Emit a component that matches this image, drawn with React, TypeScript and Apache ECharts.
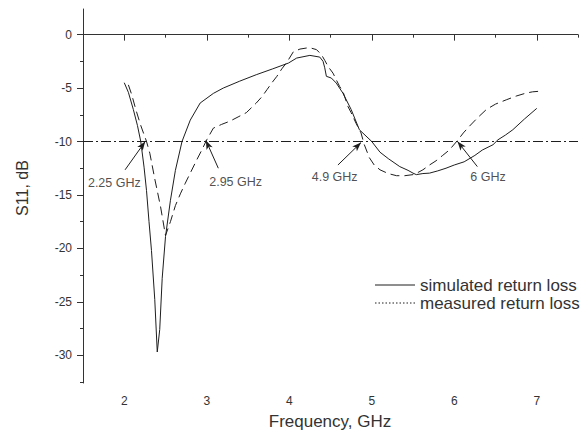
import React, { useEffect, useRef } from "react";
import * as echarts from "echarts";

const xMajorTicks = [2, 3, 4, 5, 6, 7];
const xMinorTicks = [1.5, 2.5, 3.5, 4.5, 5.5, 6.5, 7.5];
const yMajorTicks = [0, -5, -10, -15, -20, -25, -30];
const yMinorTicks = [-2.5, -7.5, -12.5, -17.5, -22.5, -27.5, -32.5];

const simulated: [number, number][] = [
  [2.0, -4.5], [2.05, -5.4], [2.11, -7.0], [2.16, -8.5], [2.2, -10.0], [2.24, -12.4],
  [2.27, -14.6], [2.3, -17.5], [2.33, -20.2], [2.37, -24.8], [2.4, -29.7], [2.43, -27.6],
  [2.46, -22.8], [2.5, -18.9], [2.56, -15.5], [2.62, -12.7], [2.7, -10.0], [2.8, -8.0],
  [2.92, -6.4], [3.08, -5.5], [3.2, -5.0], [3.4, -4.35], [3.6, -3.75], [3.8, -3.2],
  [3.99, -2.66], [4.09, -2.19], [4.25, -1.94], [4.37, -2.1], [4.41, -2.5], [4.43, -3.1],
  [4.45, -3.9], [4.51, -4.06], [4.57, -4.53], [4.65, -5.47], [4.75, -7.0], [4.85, -8.9],
  [5.0, -10.0], [5.1, -11.0], [5.2, -11.6], [5.34, -12.35], [5.44, -12.7], [5.5, -12.96],
  [5.54, -13.1], [5.62, -13.0], [5.7, -12.96], [5.8, -12.75], [5.9, -12.5], [6.0, -12.2],
  [6.12, -11.9], [6.25, -11.3], [6.34, -10.8], [6.47, -10.3], [6.53, -9.84], [6.62, -9.4],
  [6.71, -8.9], [6.85, -7.9], [7.0, -6.9],
];

const measured: [number, number][] = [
  [2.05, -4.7], [2.09, -5.6], [2.14, -7.0], [2.2, -8.5], [2.27, -10.0], [2.31, -11.1],
  [2.37, -13.5], [2.44, -16.1], [2.5, -18.8], [2.56, -17.5], [2.62, -16.0], [2.68, -14.9],
  [2.74, -13.9], [2.81, -12.8], [2.88, -11.7], [2.94, -10.8], [3.0, -9.84], [3.08, -8.75],
  [3.18, -8.4], [3.28, -8.1], [3.38, -7.7], [3.48, -7.3], [3.6, -6.4], [3.67, -5.8],
  [3.73, -5.15], [3.79, -4.5], [3.85, -3.9], [3.91, -3.2], [3.97, -2.6], [4.05, -1.6],
  [4.13, -1.35], [4.21, -1.25], [4.27, -1.27], [4.33, -1.4], [4.39, -1.87], [4.43, -2.4],
  [4.47, -2.97], [4.53, -3.6], [4.61, -4.84], [4.65, -5.3], [4.71, -6.7], [4.75, -7.3],
  [4.81, -8.3], [4.87, -9.2], [4.91, -10.3], [4.97, -11.5], [5.03, -12.2], [5.1, -12.65],
  [5.2, -13.0], [5.3, -13.2], [5.4, -13.2], [5.5, -13.1], [5.56, -12.9], [5.62, -12.65],
  [5.7, -12.2], [5.78, -11.8], [5.86, -11.3], [5.94, -10.8], [6.04, -9.9], [6.11, -9.2],
  [6.18, -8.6], [6.28, -7.8], [6.39, -7.0], [6.5, -6.5], [6.63, -6.1], [6.75, -5.75],
  [6.87, -5.47], [6.95, -5.35], [7.03, -5.3],
];

const threshold = -10;

const annotationLabels = ["2.25 GHz", "2.95 GHz", "4.9 GHz", "6 GHz"];
const annotationTextAt: [number, number][] = [[1.88, -13.9], [3.35, -13.75], [4.55, -13.3], [6.41, -13.3]];
const arrowFrom: [number, number][] = [[2.01, -12.65], [3.14, -12.5], [4.59, -12.2], [6.28, -12.35]];
const arrowTo: [number, number][] = [[2.254, -10.0], [2.99, -9.9], [4.87, -10.1], [6.04, -10.0]];

const legendNames = ["simulated return loss", "measured return loss"];

const FONT = "'Liberation Sans', Arial, sans-serif";
const INK = "#1e1e1e";

export default function App() {
  const ref = useRef<HTMLDivElement>(null);
  useEffect(() => {
    document.body.style.margin = "0";
    if (!ref.current) return;
    const chart = echarts.init(ref.current, null, { renderer: "svg" });
    const axisCommon = {
      type: "value" as const,
      splitLine: { show: false },
    };
    chart.setOption({
      animation: false,
      backgroundColor: "#ffffff",
      grid: { left: 83, right: 8, top: 9, bottom: 57 },
      xAxis: [
        {
          ...axisCommon,
          min: 1.5,
          max: 7.5,
          position: "bottom",
          axisLine: { show: true, lineStyle: { color: "#333", width: 1 } },
          axisTick: { show: true, inside: false, length: 6, customValues: xMajorTicks, lineStyle: { color: "#333" } },
          axisLabel: { customValues: xMajorTicks, margin: 12, fontSize: 12, color: "#333", fontFamily: FONT },
        },
        {
          ...axisCommon,
          min: 1.5,
          max: 7.5,
          position: "bottom",
          axisLine: { show: false },
          axisTick: { show: true, inside: false, length: 3, customValues: xMinorTicks, lineStyle: { color: "#333" } },
          axisLabel: { show: false },
        },
      ],
      yAxis: [
        {
          ...axisCommon,
          min: -32.6,
          max: 2.4,
          position: "left",
          axisLine: { show: true, lineStyle: { color: "#333", width: 1 } },
          axisTick: { show: true, inside: false, length: 6, customValues: yMajorTicks, lineStyle: { color: "#333" } },
          axisLabel: { customValues: yMajorTicks, margin: 11, fontSize: 12, color: "#333", fontFamily: FONT },
        },
        {
          ...axisCommon,
          min: -32.6,
          max: 2.4,
          position: "left",
          axisLine: { show: false },
          axisTick: { show: true, inside: false, length: 3, customValues: yMinorTicks, lineStyle: { color: "#333" } },
          axisLabel: { show: false },
        },
      ],
      graphic: [
        {
          type: "text",
          x: 330,
          y: 421,
          style: { text: "Frequency, GHz", font: `17px ${FONT}`, fill: "#333", textAlign: "center", textVerticalAlign: "middle" },
        },
        {
          type: "text",
          x: 22,
          y: 188,
          rotation: Math.PI / 2,
          style: { text: "S11, dB", font: `16px ${FONT}`, fill: "#333", textAlign: "center", textVerticalAlign: "middle" },
        },
        { type: "line", shape: { x1: 375, y1: 285, x2: 415, y2: 285 }, style: { stroke: INK, lineWidth: 1 } },
        {
          type: "text",
          x: 420,
          y: 285,
          style: { text: legendNames[0], font: `17px ${FONT}`, fill: "#333", textAlign: "left", textVerticalAlign: "middle" },
        },
        { type: "line", shape: { x1: 375, y1: 303, x2: 415, y2: 303 }, style: { stroke: INK, lineWidth: 1, lineDash: [1.5, 2] } },
        {
          type: "text",
          x: 420,
          y: 303,
          style: { text: legendNames[1], font: `17px ${FONT}`, fill: "#333", textAlign: "left", textVerticalAlign: "middle" },
        },
      ],
      series: [
        {
          name: legendNames[0],
          type: "line",
          data: simulated,
          showSymbol: false,
          symbol: "none",
          lineStyle: { color: INK, width: 1 },
          silent: true,
          markLine: {
            silent: true,
            symbol: ["none", "none"],
            label: { show: false },
            lineStyle: { color: INK, width: 1, type: [10, 3, 2, 3] },
            data: [{ yAxis: threshold }],
          },
        },
        {
          name: legendNames[1],
          type: "line",
          data: measured,
          showSymbol: false,
          symbol: "none",
          lineStyle: { color: INK, width: 1, type: [9, 5] },
          silent: true,
        },
        {
          name: "annotations",
          type: "scatter",
          symbolSize: 1,
          itemStyle: { color: "rgba(0,0,0,0)" },
          silent: true,
          data: annotationLabels.map((n, i) => ({ name: n, value: annotationTextAt[i] })),
          label: {
            show: true,
            position: "inside",
            formatter: "{b}",
            fontSize: 12.5,
            color: "#222",
            fontFamily: FONT,
          },
          markLine: {
            silent: true,
            symbol: ["none", "arrow"],
            symbolSize: [5, 9],
            label: { show: false },
            lineStyle: { color: INK, width: 1, type: "solid" },
            data: arrowFrom.map((f, i) => [{ coord: f }, { coord: arrowTo[i] }]),
          },
        },
      ],
    });
    return () => chart.dispose();
  }, []);
  return <div ref={ref} style={{ width: 586, height: 440 }} />;
}
